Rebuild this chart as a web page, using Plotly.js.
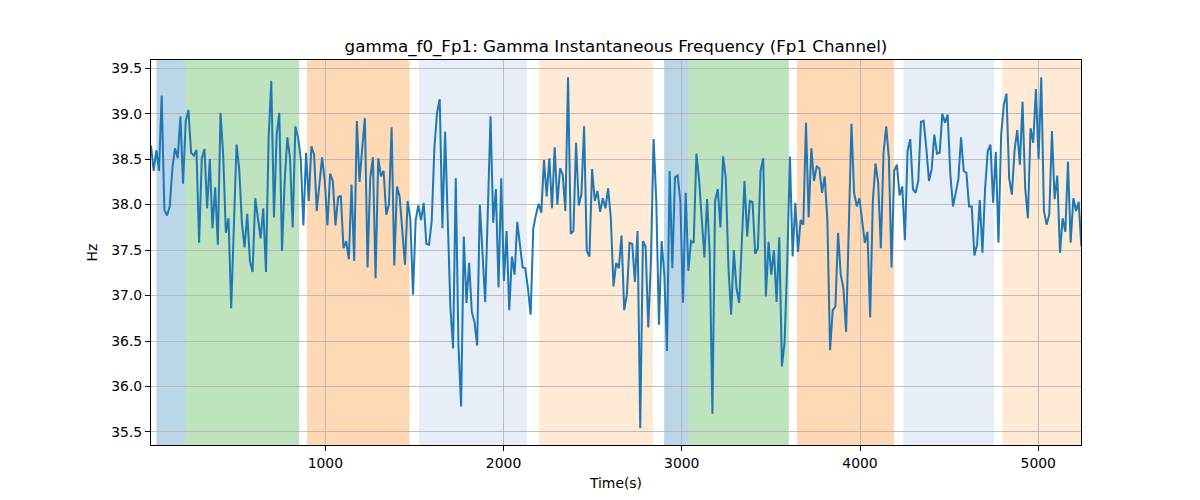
<!DOCTYPE html>
<html>
<head>
<meta charset="utf-8">
<script src="https://cdn.plot.ly/plotly-3.0.1.min.js"></script>
<style>
  html, body { margin: 0; padding: 0; background: #fff; }
  #graph { width: 1200px; height: 500px; }
</style>
</head>
<body>
<div id="graph"></div>
<script>
// sample times: first sample and spacing in seconds
const startTime = 22;
const sampleStep = 15;

// gamma instantaneous frequency (Hz) left to right
const hzPart1 = [38.65, 38.37, 38.6, 38.37, 39.2, 37.94, 37.88, 37.98, 38.4, 38.62,
  38.51, 38.97, 38.23, 38.92, 39.04, 38.57, 38.54, 38.6, 37.58, 38.51,
  38.61, 37.96, 38.5, 37.74, 38.19, 37.56, 39.01, 38.55, 37.69, 37.85,
  36.86, 37.82, 38.66, 38.39, 37.8, 37.53, 37.9, 37.38, 37.26, 38.07,
  37.82, 37.63, 37.96, 37.26, 38.74, 39.36, 37.86, 38.77, 39.01, 37.49,
  38.26, 38.74, 38.51, 37.75, 38.86, 38.74, 38.51, 37.77, 38.57, 38.04,
  38.64, 38.55, 37.93, 38.26, 38.52, 38.26, 37.77, 38.34, 38.26, 37.77,
  38.08, 38.1, 37.52];
const hzPart2 = [37.6, 37.4, 38.22, 37.38, 38.92, 38.25, 38.62, 38.95, 37.31, 38.29,
  38.52, 37.19, 38.51, 38.31, 38.37, 37.89, 38.0, 38.85, 37.33, 38.2,
  38.09, 37.71, 37.34, 38.04, 37.85, 37.01, 37.83, 37.99, 37.83, 38.02,
  37.57, 37.56, 37.82, 38.62, 39.01, 39.16, 37.74, 38.8, 37.82, 36.86,
  36.42, 38.29, 36.46, 35.78, 37.65, 36.92, 37.36, 36.82, 36.71, 36.45,
  38.0, 37.49, 36.93, 37.93, 38.97, 37.8, 38.17, 37.09, 38.29, 37.16,
  37.71, 36.84, 37.43, 37.23, 37.81, 37.56, 37.31, 37.3, 37.08, 36.79,
  37.74];
const hzPart3 = [37.89, 38.01, 37.91, 38.49, 38.09, 38.51, 37.96, 38.63, 38.0, 38.4,
  38.33, 37.93, 39.4, 37.68, 37.71, 38.68, 37.99, 38.11, 38.86, 37.49,
  37.43, 38.39, 38.04, 38.15, 37.92, 38.07, 37.96, 38.18, 37.85, 37.1,
  37.36, 37.3, 37.66, 36.84, 37.01, 37.58, 37.57, 37.15, 37.71, 35.54,
  37.6, 37.54, 36.65, 37.38, 38.72, 38.04, 36.68, 37.6, 37.23, 36.39,
  38.37, 37.3, 38.3, 38.32, 38.04, 36.92, 38.13, 37.27, 37.6, 37.58,
  38.56, 38.28, 37.85, 37.42, 38.06, 37.45, 35.7, 38.04, 38.17, 37.75,
  38.53];
const hzPart4 = [38.29, 37.3, 36.79, 37.5, 37.08, 36.92, 37.65, 38.26, 37.65, 38.04,
  38.03, 37.46, 37.52, 38.37, 38.51, 36.99, 37.59, 37.23, 37.5, 36.93,
  37.64, 36.22, 36.49, 37.38, 38.53, 37.43, 38.02, 37.48, 37.83, 37.78,
  38.9, 37.86, 38.62, 38.26, 38.42, 38.4, 38.13, 38.31, 37.83, 36.4,
  36.84, 36.88, 37.69, 37.23, 37.08, 36.6, 37.74, 38.89, 38.13, 37.98,
  38.07, 37.83, 37.58, 37.7, 36.76, 38.04, 38.45, 38.24, 37.52, 38.57,
  38.86, 38.51, 37.31, 38.37, 38.44, 38.1, 38.2, 37.61, 38.59, 38.72,
  38.17, 38.13];
const hzPart5 = [38.26, 38.91, 38.92, 38.62, 38.26, 38.39, 38.77, 38.56, 38.57, 39.0,
  38.9, 38.99, 38.33, 37.98, 38.13, 38.28, 38.74, 38.37, 38.35, 37.98,
  37.98, 37.44, 37.56, 38.05, 37.47, 38.18, 38.59, 38.66, 38.02, 38.58,
  37.58, 38.77, 39.1, 39.22, 38.29, 38.11, 38.59, 38.82, 38.44, 39.13,
  38.18, 37.85, 38.84, 38.68, 39.27, 38.5, 39.4, 37.93, 37.78, 37.89,
  38.81, 38.06, 38.32, 37.47, 37.85, 37.7, 38.47, 37.58, 38.07, 37.93,
  38.03, 37.54];

// shaded stages (seconds)
const bandStart = [52, 215, 897, 1525, 2200, 2901, 3038, 3647, 4243, 4798];
const bandEnd   = [215, 853, 1473, 2131, 2838, 3038, 3601, 4191, 4752, 5240];
const bandColor = ['#1f77b4', '#2ca02c', '#ff7f0e', '#aec7e8', '#ffbb78',
                   '#1f77b4', '#2ca02c', '#ff7f0e', '#aec7e8', '#ffbb78'];

const hz = hzPart1.concat(hzPart2, hzPart3, hzPart4, hzPart5);
const times = hz.map((v, i) => startTime + i * sampleStep);

var shapes = bandStart.map(function(s, i){
    return {
        type: 'rect', xref: 'x', yref: 'paper',
        x0: s, x1: bandEnd[i], y0: 0, y1: 1,
        fillcolor: bandColor[i], opacity: 0.3,
        line: {width: 0}, layer: 'below'
    };
});

var trace = {
    x: times, y: hz,
    type: 'scatter', mode: 'lines',
    line: {color: '#1f77b4', width: 2},
    hoverinfo: 'skip'
};

var font = 'DejaVu Sans, sans-serif';
var layout = {
    width: 1200, height: 500,
    showlegend: false,
    paper_bgcolor: '#ffffff',
    plot_bgcolor: 'rgba(0,0,0,0)',
    margin: {l: 151, r: 119, t: 60, b: 55, pad: 0},
    font: {family: font, size: 14, color: '#000'},
    title: {
        text: 'gamma_f0_Fp1: Gamma Instantaneous Frequency (Fp1 Channel)',
        font: {family: font, size: 16.7, color: '#000'},
        xref: 'paper', x: 0.5, xanchor: 'center',
        yref: 'container', y: 1 - 46 / 500, yanchor: 'middle'
    },
    xaxis: {
        range: [22, 5240],
        tickvals: [1000, 2000, 3000, 4000, 5000],
        ticktext: ['1000', '2000', '3000', '4000', '5000'],
        ticks: 'outside', ticklen: 5, tickwidth: 1, tickcolor: '#000',
        showgrid: true, gridcolor: '#b0b0b0', gridwidth: 0.8,
        zeroline: false,
        showline: true, linecolor: '#000', linewidth: 1, mirror: true,
        tickfont: {family: font, size: 13.9, color: '#000'},
        title: {text: 'Time(s)', font: {family: font, size: 13.9, color: '#000'}, standoff: 8}
    },
    yaxis: {
        range: [35.357, 39.59],
        tickvals: [35.5, 36, 36.5, 37, 37.5, 38, 38.5, 39, 39.5],
        tickformat: '.1f',
        ticks: 'outside', ticklen: 5, tickwidth: 1, tickcolor: '#000',
        showgrid: true, gridcolor: '#b0b0b0', gridwidth: 0.8,
        zeroline: false,
        showline: true, linecolor: '#000', linewidth: 1, mirror: true,
        tickfont: {family: font, size: 13.9, color: '#000'},
        title: {text: 'Hz', font: {family: font, size: 13.9, color: '#000'}, standoff: 10}
    },
    shapes: shapes
};

Plotly.newPlot('graph', [trace], layout, {staticPlot: true});
</script>
</body>
</html>
